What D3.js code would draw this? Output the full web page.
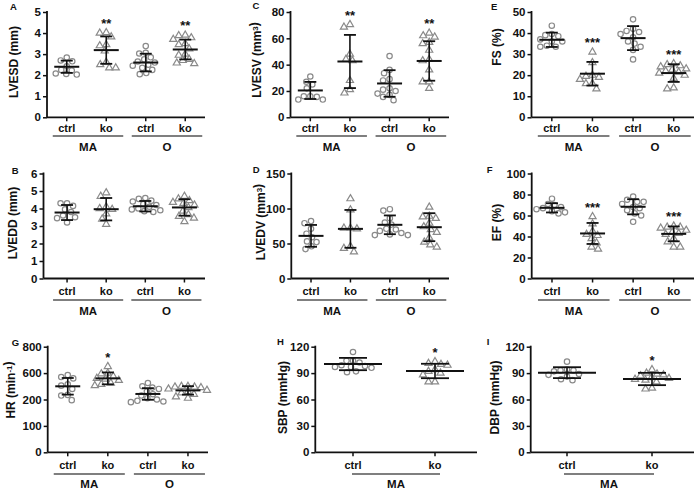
<!DOCTYPE html>
<html>
<head>
<meta charset="utf-8">
<script src="https://cdn.jsdelivr.net/npm/d3@7"></script>
<style>
  body { margin: 0; background: #fff; }
  svg text { font-family: "Liberation Sans", Arial, sans-serif; font-weight: bold; fill: #111; }
</style>
</head>
<body>
<script>
// groups: MA ctrl, MA ko, O ctrl, O ko
var cats4 = ["ctrl", "ko", "ctrl", "ko"];
var cats2 = ["ctrl", "ko"];
var cohorts4 = [["MA", 0, 1], ["O", 2, 3]];
var cohorts2 = [["MA", 0, 1]];

// A - LVESD (mm)
var lvesd = [
  [2.84, 2.7, 2.66, 2.42, 2.22, 2.25, 2.06, 2.03, 2.08],
  [4.02, 4.0, 3.82, 3.45, 3.4, 3.15, 2.62, 2.5, 2.35, 2.35],
  [3.38, 3.06, 3.03, 2.85, 2.75, 2.65, 2.6, 2.5, 2.45, 2.35, 2.25, 2.1, 2.05],
  [3.9, 3.88, 3.78, 3.7, 3.5, 3.45, 3.25, 3.0, 2.95, 2.75, 2.7, 2.58, 2.55]
];
var lvesdMean = [2.40, 3.19, 2.60, 3.22];
var lvesdSd = [0.29, 0.65, 0.42, 0.47];
var lvesdStars = ["", "**", "", "**"];
var lvesdTicks = [0, 1, 2, 3, 4, 5];

// B - LVEDD (mm)
var lvedd = [
  [4.3, 4.3, 4.15, 3.95, 3.8, 3.6, 3.5, 3.45, 3.2],
  [4.9, 4.7, 4.1, 4.0, 3.95, 3.7, 3.4, 3.1],
  [4.6, 4.55, 4.45, 4.4, 4.25, 4.2, 4.1, 4.0, 3.95, 3.9, 3.85, 3.8],
  [4.7, 4.55, 4.45, 4.35, 4.3, 4.2, 4.05, 3.85, 3.65, 3.55, 3.45, 3.25]
];
var lveddMean = [3.77, 3.96, 4.13, 4.06];
var lveddSd = [0.43, 0.64, 0.30, 0.47];
var lveddStars = ["", "", "", ""];
var lveddTicks = [0, 1, 2, 3, 4, 5, 6];

// C - LVESV (mm3)
var lvesv = [
  [31, 27, 25, 22, 16, 16, 15.5, 13.5, 13.5],
  [70.5, 68.5, 48, 44, 43, 28, 21, 18.5],
  [46.5, 36, 33.5, 29, 28, 22, 21, 20, 18, 17, 15.5, 13],
  [64, 62, 61, 57, 56, 51, 44, 43, 36, 27, 27, 22]
];
var lvesvMean = [20.4, 42.4, 25.7, 42.8];
var lvesvSd = [6.5, 20.2, 10.1, 15];
var lvesvStars = ["", "**", "", "**"];
var lvesvTicks = [0, 20, 40, 60, 80];

// D - LVEDV (mm3)
var lvedv = [
  [82, 79, 71, 64, 59, 53, 52, 46, 42],
  [114, 98, 72, 72, 71, 46, 43, 38],
  [99, 97, 86, 80, 77, 71, 70, 68, 65, 63, 62, 62],
  [102, 89, 88, 86, 79, 74, 70, 66, 58, 52, 48, 45]
];
var lvedvMean = [60.9, 70.9, 76.7, 73.3];
var lvedvSd = [15.6, 27, 13.4, 20];
var lvedvStars = ["", "", "", ""];
var lvedvTicks = [0, 50, 100, 150];

// E - FS (%)
var fs = [
  [43.5, 39.5, 39, 38.5, 37, 36, 36, 34, 33.5, 33.5],
  [31, 26, 20, 19.5, 19, 18, 16, 16, 13.5],
  [46.5, 42, 41, 40.5, 39.5, 38, 36, 35, 33.5, 32, 27.5],
  [25.5, 25, 24.5, 24, 23, 22.5, 22, 21.5, 21, 20, 18.5, 14, 13.5]
];
var fsMean = [36.8, 20.7, 37.6, 21];
var fsSd = [3.4, 5.6, 5.7, 4.2];
var fsStars = ["", "***", "", "***"];
var fsTicks = [0, 10, 20, 30, 40, 50];

// F - EF (%)
var ef = [
  [76, 71, 70, 68, 67, 66, 64, 63, 62],
  [59, 52, 45, 42, 41, 38, 34, 30, 28],
  [78, 75, 73, 73, 71, 68, 67, 65, 62, 60, 54],
  [50, 49, 49, 48, 46, 44, 43, 42, 38, 35, 30, 30]
];
var efMean = [67.3, 42.9, 68.3, 42.5];
var efSd = [4.4, 10, 7.2, 7.1];
var efStars = ["", "***", "", "***"];
var efTicks = [0, 20, 40, 60, 80, 100];

// G - HR (min-1); tick labels printed as in the figure
var hr = [
  [585, 570, 560, 515, 505, 480, 435, 430, 395],
  [650, 600, 595, 575, 560, 555, 545, 525, 515, 505],
  [525, 500, 490, 480, 460, 440, 430, 410, 400, 390, 385, 380],
  [500, 500, 495, 495, 490, 480, 470, 460, 450, 440, 420, 410]
];
var hrMean = [500, 560, 442, 469];
var hrSd = [63, 45, 44, 32];
var hrStars = ["", "*", "", ""];
var hrTicks = [0, 200, 400, 600, 800];
var hrTickLabels = ["0", "100", "200", "600", "800"];

// H - SBP (mmHg)
var sbp = [
  [114, 104, 104, 102, 99, 98, 97, 97, 96, 92, 91],
  [103, 101, 100, 99, 94, 92, 90, 88, 80, 80]
];
var sbpMean = [100.3, 92.4];
var sbpSd = [7, 8.2];
var sbpStars = ["", "*"];
var bpTicks = [0, 30, 60, 90, 120];

// I - DBP (mmHg)
var dbp = [
  [103, 94, 93, 93, 92, 89, 88, 86, 83, 82],
  [94, 90, 89, 88, 87, 85, 84, 83, 82, 80, 73, 72]
];
var dbpMean = [90.5, 83.3];
var dbpSd = [6.2, 7];
var dbpStars = ["", "*"];

var w = 696;
var h = 489;

var row1 = { top: 12, bottom: 117.3, catY: 132, lineY: 136, groupY: 151 };
var row2 = { top: 173.5, bottom: 278.5, catY: 294.5, lineY: 300, groupY: 314.5 };
var row3 = { top: 346.7, bottom: 452.3, catY: 469, lineY: 474, groupY: 488 };

var panels = [
  { letter: "A", lx: 10, ly: 9.5, title: [["LVESD (mm)"]], tx: 13.5, ty: 62, vals: lvesd, mean: lvesdMean, sd: lvesdSd, stars: lvesdStars, ticks: lvesdTicks, row: row1, left: 47, right: 205, band: [47, 205] },
  { letter: "C", lx: 252.5, ly: 8.7, title: [["LVESV (mm"], ["3", 1], [")"]], tx: 257, ty: 60, vals: lvesv, mean: lvesvMean, sd: lvesvSd, stars: lvesvStars, ticks: lvesvTicks, row: row1, left: 290.5, right: 449, band: [290.5, 449] },
  { letter: "E", lx: 491, ly: 10, title: [["FS (%)"]], tx: 497, ty: 47, vals: fs, mean: fsMean, sd: fsSd, stars: fsStars, ticks: fsTicks, row: row1, left: 531.5, right: 694, band: [531.5, 694] },
  { letter: "B", lx: 11.7, ly: 174, title: [["LVEDD (mm)"]], tx: 13, ty: 223, vals: lvedd, mean: lveddMean, sd: lveddSd, stars: lveddStars, ticks: lveddTicks, row: row2, left: 43.5, right: 205, band: [47.5, 204] },
  { letter: "D", lx: 252.7, ly: 172.5, title: [["LVEDV (mm"], ["3", 1], [")"]], tx: 261, ty: 222, vals: lvedv, mean: lvedvMean, sd: lvedvSd, stars: lvedvStars, ticks: lvedvTicks, row: row2, left: 291.3, right: 449, band: [291.3, 449] },
  { letter: "F", lx: 486.7, ly: 172.7, title: [["EF (%)"]], tx: 497, ty: 222.5, vals: ef, mean: efMean, sd: efSd, stars: efStars, ticks: efTicks, row: row2, left: 531.7, right: 694, band: [531.7, 694] },
  { letter: "G", lx: 11.7, ly: 346, title: [["HR (min"], ["-1", 1], [")"]], tx: 11, ty: 390, vals: hr, mean: hrMean, sd: hrSd, stars: hrStars, ticks: hrTicks, tickLabels: hrTickLabels, row: row3, left: 47.7, right: 208, band: [47.7, 208] },
  { letter: "H", lx: 277, ly: 345, title: [["SBP (mmHg)"]], tx: 283, ty: 397.5, vals: sbp, mean: sbpMean, sd: sbpSd, stars: sbpStars, ticks: bpTicks, row: row3, left: 315.3, right: 477, band: [312, 476], two: true, gl: -1, gr: 5 },
  { letter: "I", lx: 486.7, ly: 345, title: [["DBP (mmHg)"]], tx: 495, ty: 397.5, vals: dbp, mean: dbpMean, sd: dbpSd, stars: dbpStars, ticks: bpTicks, row: row3, left: 530.7, right: 694, band: [524.5, 694.5], two: true, gl: -3, gr: 2 }
];

var svg = d3.select("body")
  .append("svg")
  .attr("width", w)
  .attr("height", h);

// simple deterministic beeswarm: nearest free x offset for each point
function swarm(vals, y, r) {
  var pts = vals.map(function(v) { return { v: v, py: y(v), dx: 0 }; })
    .sort(function(a, b) { return a.py - b.py; });
  var placed = [];
  var minD = 2 * r + 0.6;
  pts.forEach(function(p) {
    for (var k = 0; k < 80; k++) {
      var off = (k % 2 === 0 ? 1 : -1) * Math.ceil(k / 2) * 0.5;
      var ok = placed.every(function(q) {
        var ddx = q.dx - off, ddy = q.py - p.py;
        return ddx * ddx + ddy * ddy >= minD * minD;
      });
      if (ok) { p.dx = off; break; }
    }
    placed.push(p);
  });
  return pts;
}

panels.forEach(function(p) {
  var cats = p.two ? cats2 : cats4;
  var cohorts = p.two ? cohorts2 : cohorts4;
  var row = p.row;
  var g = svg.append("g");

  var y = d3.scaleLinear()
    .domain([0, d3.max(p.ticks)])
    .range([row.bottom, row.top]);

  var x = d3.scaleBand()
    .domain(d3.range(cats.length))
    .range(p.band);
  var cx = function(i) { return x(i) + x.bandwidth() / 2; };

  var mw = p.two ? 29 : 12.5;   // half width of mean bar
  var cw = p.two ? 14 : 6;      // half width of SD caps

  // y axis
  var yAxis = d3.axisLeft(y)
    .tickValues(p.ticks)
    .tickSize(4)
    .tickSizeOuter(0)
    .tickPadding(2)
    .tickFormat(function(d, i) { return p.tickLabels ? p.tickLabels[i] : d; });
  var ya = g.append("g")
    .attr("transform", "translate(" + p.left + ",0)")
    .call(yAxis);
  ya.select(".domain").remove();
  ya.selectAll(".tick line").attr("stroke", "#111").attr("stroke-width", 1.5);
  ya.selectAll(".tick text").attr("font-size", 11.5).attr("fill", "#111");

  // x axis ticks + labels
  var xAxis = d3.axisBottom(x)
    .tickSize(4)
    .tickSizeOuter(0)
    .tickPadding(3)
    .tickFormat(function(i) { return cats[i]; });
  var xa = g.append("g")
    .attr("transform", "translate(0," + row.bottom + ")")
    .call(xAxis);
  xa.select(".domain").remove();
  xa.selectAll(".tick line").attr("stroke", "#111").attr("stroke-width", 1.5);
  xa.selectAll(".tick text").attr("font-size", 11).attr("fill", "#111")
    .attr("dy", null).attr("y", row.catY - row.bottom);

  // axis lines
  g.append("line")
    .attr("x1", p.left).attr("y1", row.top - 1)
    .attr("x2", p.left).attr("y2", row.bottom)
    .attr("stroke", "#111").attr("stroke-width", 1.8);
  g.append("line")
    .attr("x1", p.left).attr("y1", row.bottom)
    .attr("x2", p.right).attr("y2", row.bottom)
    .attr("stroke", "#111").attr("stroke-width", 1.8);

  // points
  p.vals.forEach(function(vals, i) {
    var pts = swarm(vals, y, 2.9);
    var sel = g.append("g").selectAll("path")
      .data(pts)
      .enter();
    if (i % 2 === 0) {
      sel.append("circle")
        .attr("cx", function(d) { return cx(i) + d.dx; })
        .attr("cy", function(d) { return d.py; })
        .attr("r", 2.7)
        .attr("fill", "#fff")
        .attr("stroke", "#8a8a8a")
        .attr("stroke-width", 1.2);
    } else {
      sel.append("path")
        .attr("d", d3.symbol().type(d3.symbolTriangle).size(22))
        .attr("transform", function(d) { return "translate(" + (cx(i) + d.dx) + "," + d.py + ")"; })
        .attr("fill", "#fff")
        .attr("stroke", "#8a8a8a")
        .attr("stroke-width", 1.2);
    }
  });

  // mean +- SD
  p.mean.forEach(function(m, i) {
    var s = p.sd[i];
    var c = cx(i);
    g.append("line")
      .attr("x1", c).attr("x2", c)
      .attr("y1", y(m + s)).attr("y2", y(m - s))
      .attr("stroke", "#111").attr("stroke-width", 1.6);
    [m + s, m - s].forEach(function(v) {
      g.append("line")
        .attr("x1", c - cw).attr("x2", c + cw)
        .attr("y1", y(v)).attr("y2", y(v))
        .attr("stroke", "#111").attr("stroke-width", 1.8);
    });
    g.append("line")
      .attr("x1", c - mw).attr("x2", c + mw)
      .attr("y1", y(m)).attr("y2", y(m))
      .attr("stroke", "#111").attr("stroke-width", 2);
  });

  // significance stars
  p.stars.forEach(function(st, i) {
    if (!st) return;
    var topY = Math.min(y(d3.max(p.vals[i])), y(p.mean[i] + p.sd[i]));
    g.append("text")
      .attr("x", cx(i))
      .attr("y", topY - 5)
      .attr("text-anchor", "middle")
      .attr("font-size", 13)
      .text(st);
  });

  // cohort lines and labels
  var gl = p.gl !== undefined ? p.gl : -14;
  var gr = p.gr !== undefined ? p.gr : 17;
  cohorts.forEach(function(co) {
    var x1 = cx(co[1]) + gl, x2 = cx(co[2]) + gr;
    g.append("line")
      .attr("x1", x1).attr("x2", x2)
      .attr("y1", row.lineY).attr("y2", row.lineY)
      .attr("stroke", "#555").attr("stroke-width", 1.5);
    g.append("text")
      .attr("x", (x1 + x2) / 2)
      .attr("y", row.groupY)
      .attr("text-anchor", "middle")
      .attr("font-size", 11.5)
      .text(co[0]);
  });

  // y axis title
  var t = g.append("text")
    .attr("transform", "translate(" + p.tx + "," + p.ty + ") rotate(-90)")
    .attr("text-anchor", "middle")
    .attr("dy", "0.36em")
    .attr("font-size", 12);
  p.title.forEach(function(part) {
    if (part[1]) {
      t.append("tspan").attr("dy", "-0.4em").attr("font-size", 8).text(part[0]);
      t.append("tspan").attr("dy", "0.4em").text("");
    } else {
      t.append("tspan").text(part[0]);
    }
  });

  // panel letter
  g.append("text")
    .attr("x", p.lx)
    .attr("y", p.ly)
    .attr("font-size", 9.5)
    .text(p.letter);
});
</script>
</body>
</html>
